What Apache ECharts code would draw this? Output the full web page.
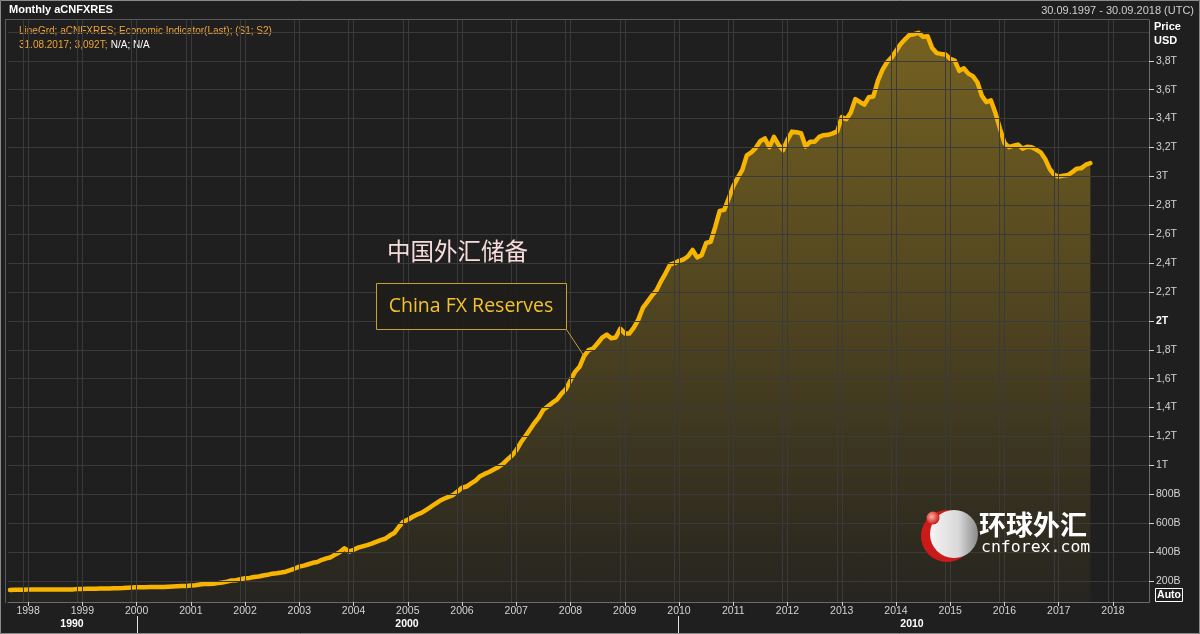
<!DOCTYPE html>
<html><head><meta charset="utf-8">
<script src="https://cdn.jsdelivr.net/npm/echarts@6/dist/echarts.min.js"></script>
<style>html,body{margin:0;padding:0;background:#1f1f1f;}#c{width:1200px;height:634px;}</style>
</head><body><div id="c"></div>
<script>
// Monthly China FX reserves, billions USD
const fx1997 = [138, 139, 139.5, 140];               // Sep–Dec
const fx1998 = [140.4, 140.6, 140.8, 140.9, 140.9, 140.8, 140.9, 141.0, 141.1, 141.1, 142.0, 145.0];
const fx1999 = [145.5, 145.8, 146.4, 147.0, 147.6, 148.0, 148.9, 149.7, 150.2, 151.0, 153.0, 154.7];
const fx2000 = [156.2, 157.2, 157.4, 158.0, 158.3, 158.6, 159.0, 160.5, 162.0, 163.7, 164.6, 165.6];
const fx2001 = [168.3, 171.2, 175.8, 179.0, 180.0, 180.4, 185.2, 190.0, 195.9, 203.1, 205.5, 212.2];
const fx2002 = [219.0, 221.3, 228.0, 230.7, 237.7, 242.8, 250.8, 254.1, 258.6, 264.3, 274.9, 286.4];
const fx2003 = [299.1, 306.8, 316.1, 326.0, 331.7, 346.5, 356.5, 364.7, 383.9, 400.0, 426.0, 403.3];
const fx2004 = [415.7, 431.0, 439.8, 448.4, 458.3, 470.6, 483.1, 492.3, 514.5, 531.8, 573.6, 609.9];
const fx2005 = [623.6, 642.6, 659.1, 670.8, 691.0, 711.0, 732.7, 753.3, 769.0, 781.8, 794.4, 818.9];
const fx2006 = [845.2, 853.7, 875.1, 895.0, 925.0, 941.1, 954.5, 972.0, 987.9, 1009.6, 1039.7, 1066.3];
const fx2007 = [1104.7, 1158.1, 1202.0, 1246.6, 1292.6, 1332.6, 1385.2, 1408.6, 1433.6, 1454.9, 1497.0, 1528.2];
const fx2008 = [1589.8, 1647.1, 1682.2, 1756.7, 1797.0, 1808.8, 1845.2, 1884.3, 1905.6, 1879.7, 1884.7, 1946.0];
const fx2009 = [1913.5, 1912.1, 1953.7, 2008.9, 2089.5, 2131.6, 2174.7, 2210.8, 2272.6, 2327.3, 2388.8, 2399.2];
const fx2010 = [2415.2, 2424.6, 2447.1, 2490.5, 2439.5, 2454.3, 2538.9, 2547.8, 2648.3, 2760.9, 2767.8, 2847.3];
const fx2011 = [2931.7, 2991.4, 3044.7, 3145.3, 3166.4, 3197.5, 3245.3, 3262.5, 3201.7, 3273.8, 3220.1, 3181.1];
const fx2012 = [3253.6, 3309.6, 3305.0, 3298.9, 3206.1, 3240.0, 3240.0, 3272.9, 3285.1, 3287.4, 3297.3, 3311.6];
const fx2013 = [3410.0, 3395.4, 3442.6, 3534.5, 3514.8, 3496.7, 3547.8, 3553.0, 3662.7, 3736.6, 3789.5, 3821.3];
const fx2014 = [3866.6, 3913.7, 3948.1, 3978.8, 3983.9, 3993.2, 3966.3, 3968.8, 3887.7, 3852.9, 3847.4, 3843.0];
const fx2015 = [3813.4, 3801.5, 3730.0, 3748.1, 3711.1, 3693.8, 3651.3, 3557.4, 3514.1, 3525.5, 3438.3, 3330.4];
const fx2016 = [3230.9, 3202.3, 3212.6, 3219.7, 3191.7, 3205.2, 3201.1, 3185.2, 3166.4, 3120.7, 3051.6, 3010.5];
const fx2017 = [2998.2, 3005.1, 3009.1, 3029.5, 3053.6, 3056.8, 3080.7, 3091.5]; // Jan–Aug

const yearBlocks = [
  [1997, 9, fx1997], [1998, 1, fx1998], [1999, 1, fx1999], [2000, 1, fx2000], [2001, 1, fx2001],
  [2002, 1, fx2002], [2003, 1, fx2003], [2004, 1, fx2004], [2005, 1, fx2005], [2006, 1, fx2006],
  [2007, 1, fx2007], [2008, 1, fx2008], [2009, 1, fx2009], [2010, 1, fx2010], [2011, 1, fx2011],
  [2012, 1, fx2012], [2013, 1, fx2013], [2014, 1, fx2014], [2015, 1, fx2015], [2016, 1, fx2016],
  [2017, 1, fx2017]
];

const yearTicks = [1998,1999,2000,2001,2002,2003,2004,2005,2006,2007,2008,2009,2010,2011,2012,2013,2014,2015,2016,2017,2018];
const priceTicks = [200,400,600,800,1000,1200,1400,1600,1800,2000,2200,2400,2600,2800,3000,3200,3400,3600,3800];
const gridRows = [200,400,600,800,1000,1200,1400,1600,1800,2000,2200,2400,2600,2800,3000,3200,3400,3600,3800,4000];
const decades = [{label:'1990', x:72}, {label:'2000', x:407}, {label:'2010', x:912}];
const lastLabel = '3,092T';

const seriesData = [];
yearBlocks.forEach(([y, m0, arr]) => arr.forEach((v, i) => seriesData.push([y + (m0 - 1 + i) / 12, v])));

const FONT = 'Liberation Sans';
const chart = echarts.init(document.getElementById('c'), null, {renderer: 'canvas'});

function fmtPrice(v) {
  if (v < 1000) return v + 'B';
  const s = String(v / 1000).replace('.', ',') + 'T';
  return v === 2000 ? '{b|' + s + '}' : s;
}

const gridLineData = [];
gridRows.forEach(v => gridLineData.push({yAxis: v}));
yearTicks.forEach(v => { gridLineData.push({xAxis: v}); gridLineData.push({xAxis: v - 0.09}); });

const fillGradient = {
  type: 'linear', global: true, x: 0, y: 20, x2: 0, y2: 602,
  colorStops: [
    {offset: 0, color: 'rgba(205,165,35,0.50)'},
    {offset: 0.5, color: 'rgba(205,165,35,0.28)'},
    {offset: 1, color: 'rgba(205,165,35,0.04)'}
  ]
};

chart.setOption({
  animation: false,
  backgroundColor: '#1f1f1f',
  grid: {left: 8, right: 51, top: 20, bottom: 32, containLabel: false},
  xAxis: {
    type: 'value', min: 1997.63, max: 2018.664,
    axisLine: {show: true, lineStyle: {color: '#6c6c6c'}},
    axisTick: {show: true, customValues: yearTicks, length: 4, lineStyle: {color: '#d0d0d0'}},
    axisLabel: {customValues: yearTicks, formatter: v => String(Math.round(v)), color: '#d4d4d4', fontSize: 10.5, fontFamily: FONT, margin: 4},
    splitLine: {show: false}
  },
  yAxis: {
    type: 'value', position: 'right', min: 54.7, max: 4082,
    axisLine: {show: true, lineStyle: {color: '#6c6c6c'}},
    axisTick: {show: true, customValues: priceTicks, length: 5, lineStyle: {color: '#d0d0d0'}},
    axisLabel: {customValues: priceTicks, formatter: fmtPrice, color: '#d4d4d4', fontSize: 10.5, fontFamily: FONT, margin: 7,
      rich: {b: {fontWeight: 'bold', color: '#ffffff', fontSize: 10.5, fontFamily: FONT}}},
    splitLine: {show: false}
  },
  series: [
    {
      type: 'line', z: 1, data: seriesData, showSymbol: false, silent: true,
      lineStyle: {width: 0, opacity: 0},
      markLine: {silent: true, symbol: 'none', animation: false, label: {show: false},
        lineStyle: {color: '#3a3a3a', width: 1, type: 'solid'}, data: gridLineData}
    },
    {
      type: 'line', z: 3, data: seriesData, showSymbol: false, silent: true,
      lineStyle: {color: '#f7b400', width: 4.5, join: 'round', cap: 'round'},
      areaStyle: {color: fillGradient, opacity: 1},
      markLine: {silent: true, symbol: 'none', animation: false,
        lineStyle: {opacity: 0},
        label: {show: true, position: 'end', formatter: lastLabel, distance: 1,
          backgroundColor: '#f5b400', color: '#1a1200', fontWeight: 'bold', fontSize: 11, fontFamily: FONT, padding: [1, 3, 0, 1]},
        data: [{yAxis: seriesData[seriesData.length - 1][1]}]}
    }
  ]
});

const endPt = chart.convertToPixel({gridIndex: 0}, [2008 + 3/12, 1756.7]);

const g = [
  {type: 'rect', shape: {x: 0.5, y: 0.5, width: 1199, height: 633}, style: {fill: null, stroke: '#8a8a8a', lineWidth: 1}, silent: true, z: 100},
  {type: 'line', shape: {x1: 5, y1: 19.5, x2: 1149, y2: 19.5}, style: {stroke: '#5a5a5a', lineWidth: 1}, silent: true, z: 90},
  {type: 'line', shape: {x1: 5.5, y1: 19, x2: 5.5, y2: 603}, style: {stroke: '#5a5a5a', lineWidth: 1}, silent: true, z: 90},
  {type: 'text', left: 9, top: 4, style: {text: 'Monthly aCNFXRES', fill: '#ffffff', font: 'bold 11px ' + FONT}, silent: true},
  {type: 'text', right: 6, top: 5, style: {text: '30.09.1997 - 30.09.2018 (UTC)', fill: '#cfcfcf', font: '11px ' + FONT}, silent: true},
  {type: 'text', left: 19, top: 26, style: {text: 'LineGrd; aCNFXRES; Economic Indicator(Last); (S1; S2)', fill: '#f0a43a', font: '10px ' + FONT}, silent: true},
  {type: 'text', left: 19, top: 39, style: {text: '{o|31.08.2017; 3,092T;} {w|N/A; N/A}', rich: {o: {fill: '#f0a43a', font: '10px ' + FONT}, w: {fill: '#ffffff', font: '10px ' + FONT}}}, silent: true},
  {type: 'text', left: 1154, top: 21, style: {text: 'Price', fill: '#ffffff', font: 'bold 11px ' + FONT}, silent: true},
  {type: 'text', left: 1154, top: 35, style: {text: 'USD', fill: '#ffffff', font: 'bold 11px ' + FONT}, silent: true},
  {type: 'rect', shape: {x: 1155.5, y: 588.5, width: 27, height: 13}, style: {fill: null, stroke: '#ffffff', lineWidth: 1}, silent: true},
  {type: 'text', x: 1169, y: 595, style: {text: 'Auto', fill: '#ffffff', font: 'bold 10.5px ' + FONT, align: 'center', verticalAlign: 'middle'}, silent: true},
  {type: 'line', shape: {x1: 137.5, y1: 616, x2: 137.5, y2: 633}, style: {stroke: '#e0e0e0', lineWidth: 1}, silent: true},
  {type: 'line', shape: {x1: 678.5, y1: 616, x2: 678.5, y2: 633}, style: {stroke: '#e0e0e0', lineWidth: 1}, silent: true},
  // annotations
  {type: 'text', x: 387, y: 251, style: {text: '中国外汇储备', fill: '#f6dcdc', font: '23.5px "Noto Sans CJK SC"', verticalAlign: 'middle'}, silent: true, z: 50},
  {type: 'rect', shape: {x: 376.5, y: 283.5, width: 190, height: 46}, style: {fill: 'rgba(30,29,25,0.9)', stroke: '#c8a030', lineWidth: 1}, silent: true, z: 50},
  {type: 'text', x: 471, y: 306, style: {text: 'China FX Reserves', fill: '#f2c230', font: '19.5px "Open Sans"', align: 'center', verticalAlign: 'middle'}, silent: true, z: 51},
  {type: 'line', shape: {x1: 566.5, y1: 329.5, x2: endPt[0], y2: endPt[1]}, style: {stroke: '#c8a030', lineWidth: 1}, silent: true, z: 50},
  // watermark logo
  {type: 'circle', shape: {cx: 947, cy: 536, r: 26}, style: {fill: '#cc1a1a'}, silent: true, z: 60},
  {type: 'circle', shape: {cx: 954, cy: 534, r: 24}, style: {fill: {type: 'linear', x: 0, y: 0, x2: 1, y2: 0, colorStops: [{offset: 0, color: '#f4f4f4'}, {offset: 0.6, color: '#d8d8d8'}, {offset: 1, color: '#8a8a8a'}]}}, silent: true, z: 61},
  {type: 'circle', shape: {cx: 933, cy: 518, r: 6.5}, style: {fill: {type: 'radial', x: 0.4, y: 0.4, r: 0.6, colorStops: [{offset: 0, color: '#ffb0a0'}, {offset: 1, color: '#cc1a1a'}]}}, silent: true, z: 62},
  {type: 'text', x: 979, y: 525, style: {text: '环球外汇', fill: '#ffffff', font: 'bold 27px "Noto Sans CJK SC"', verticalAlign: 'middle'}, silent: true, z: 62},
  {type: 'text', x: 981, y: 548, style: {text: 'cnforex.com', fill: '#ffffff', font: '16.5px "DejaVu Sans Mono"', verticalAlign: 'middle'}, silent: true, z: 62}
];
decades.forEach(d => g.push({type: 'text', x: d.x, y: 624, style: {text: d.label, fill: '#ffffff', font: 'bold 10.5px ' + FONT, align: 'center', verticalAlign: 'middle'}, silent: true}));
chart.setOption({graphic: {elements: g}});
</script></body></html>
